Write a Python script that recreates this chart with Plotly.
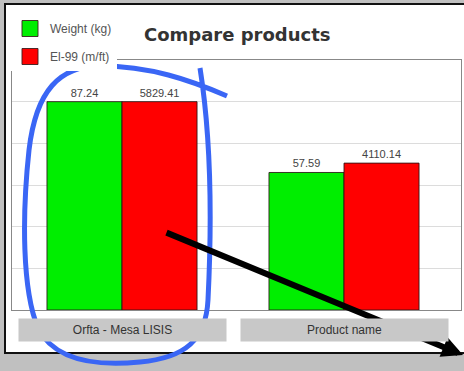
import plotly.graph_objects as go

# Data
products = ["Orfta - Mesa LISIS", "Product name"]
weight_kg = [87.24, 57.59]
ei99_mft = [5829.41, 4110.14]
series_names = ["Weight (kg)", "El-99 (m/ft)"]
series_colors = ["#00ee00", "#ff0000"]

# Plot area in pixels (464 x 371 page)
L, R, T, B = 12, 461, 60, 310
W, H = R - L, B - T


def px(x):
    return (x - L) / W


def py(y):
    return (B - y) / H


fig = go.Figure()

bar_w = 0.338
outline = dict(color="rgba(40,20,20,0.85)", width=1)

fig.add_trace(go.Bar(
    x=products, y=weight_kg, name=series_names[0], yaxis="y",
    marker=dict(color=series_colors[0], line=outline),
    width=bar_w, offset=-bar_w,
    text=[f"{v:.2f}" for v in weight_kg], textposition="outside",
    textfont=dict(size=11, color="#444", family="Liberation Sans"),
    cliponaxis=False, showlegend=False,
))
fig.add_trace(go.Bar(
    x=products, y=ei99_mft, name=series_names[1], yaxis="y2",
    marker=dict(color=series_colors[1], line=outline),
    width=bar_w, offset=0,
    text=[f"{v:.2f}" for v in ei99_mft], textposition="outside",
    textfont=dict(size=11, color="#444", family="Liberation Sans"),
    cliponaxis=False, showlegend=False,
))

# Legend entries with large square swatches
for name, col in zip(series_names, series_colors):
    fig.add_trace(go.Scatter(
        x=[None], y=[None], mode="markers", name=name,
        marker=dict(symbol="square", size=16, color=col,
                    line=dict(color="rgba(60,30,30,0.9)", width=1)),
        legendgroup=name,
    ))

# Each series scaled to its own axis so the largest bar fills 5 of 6 grid steps
step1 = max(weight_kg) / 5
step2 = max(ei99_mft) / 5

shapes = [
    # white panel with dark border
    dict(type="rect", xref="paper", yref="paper", layer="below",
         x0=px(5), x1=px(475), y0=py(4), y1=py(353),
         fillcolor="white", line=dict(color="#111", width=2)),
]

# Freehand blue loop around the first product
loop_pts = [
    "M", (227, 96), "C", (190, 80), (150, 66), (100, 66),
    "C", (60, 66), (36, 90), (29, 150),
    "C", (22, 215), (22, 290), (38, 328),
    "C", (55, 362), (100, 366), (140, 362),
    "C", (185, 358), (206, 340), (208, 300),
    "C", (211, 240), (213, 150), (200, 68),
]
path = ""
for p in loop_pts:
    if isinstance(p, str):
        path += p + " "
    else:
        path += f"{px(p[0]):.4f},{py(p[1]):.4f} "
shapes.append(dict(type="path", xref="paper", yref="paper", path=path,
                   line=dict(color="#3a66f5", width=5)))

annotations = [
    dict(text="<b>Compare products</b>", xref="paper", yref="paper",
         x=px(237), y=py(35), xanchor="center", yanchor="middle",
         showarrow=False,
         font=dict(size=18, color="#333", family="DejaVu Sans")),
    dict(x=px(464), y=py(355), xref="paper", yref="paper",
         ax=165 - 464, ay=232 - 355, axref="pixel", ayref="pixel",
         showarrow=True, arrowhead=2, arrowsize=0.7, arrowwidth=6,
         arrowcolor="#000", text=""),
]
for cat in products:
    annotations.append(dict(
        text=cat, x=cat, xref="x", yref="paper", y=py(329.5),
        xanchor="center", yanchor="middle",
        showarrow=False, width=205, height=20, bgcolor="#c8c8c8",
        font=dict(size=12, color="#333", family="Liberation Sans"),
    ))

fig.update_layout(
    width=464, height=371,
    margin=dict(l=L, r=464 - R, t=T, b=371 - B),
    paper_bgcolor="#c0c0c0", plot_bgcolor="white",
    xaxis=dict(range=[-0.4955, 1.527], showticklabels=False, showgrid=False,
               showline=True, linecolor="#888", linewidth=1, mirror=True,
               ticks=""),
    yaxis=dict(range=[0, 6 * step1], dtick=step1, showticklabels=False,
               gridcolor="#dcdcdc", showline=True, linecolor="#888",
               mirror=True, zeroline=False, ticks=""),
    yaxis2=dict(range=[0, 6 * step2], overlaying="y", side="right",
                showticklabels=False, showgrid=False, zeroline=False,
                ticks=""),
    showlegend=True,
    legend=dict(x=px(10), y=py(14), xanchor="left", yanchor="top",
                bgcolor="white", traceorder="grouped", tracegroupgap=9,
                font=dict(size=12, color="#555", family="Liberation Sans")),
    shapes=shapes,
    annotations=annotations,
)

fig.write_html("out.html")
